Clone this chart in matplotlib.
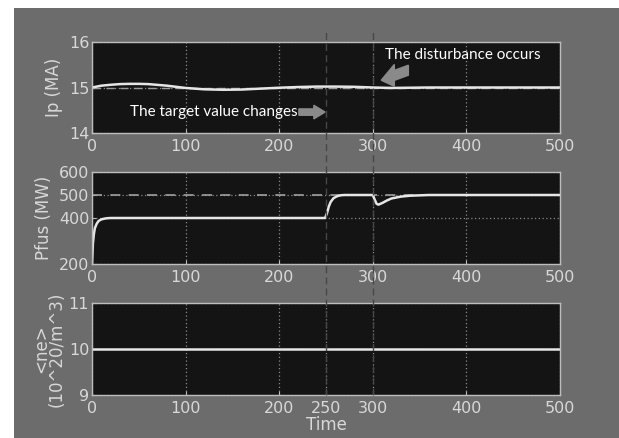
import matplotlib
matplotlib.use("Agg")
import matplotlib.pyplot as plt
from matplotlib.patches import Rectangle, FancyArrow
from matplotlib.lines import Line2D
from matplotlib.transforms import blended_transform_factory

# plasma current Ip (MA)
ip_t = [0, 10, 20, 30, 40, 50, 60, 80, 100, 120, 140, 160, 180, 200, 220, 240, 260, 280, 300, 320, 340, 360, 400, 450, 500]
ip_v = [15.0, 15.04, 15.06, 15.075, 15.08, 15.08, 15.075, 15.04, 14.99, 14.96, 14.95, 14.955, 14.975, 14.995, 15.01, 15.02, 15.02, 15.015, 15.0, 14.99, 14.995, 15.0, 15.0, 15.0, 15.0]

# fusion power (MW)
pf_t = [0, 1, 2, 3, 5, 7, 10, 13, 16, 20, 30, 100, 200, 249, 251, 253, 255, 258, 262, 266, 270, 300, 302, 304, 306, 310, 315, 320, 330, 340, 360, 400, 500]
pf_v = [200, 290, 330, 355, 375, 387, 394, 397, 399, 400, 400, 400, 400, 400, 420, 450, 470, 486, 495, 499, 500, 500, 480, 462, 458, 465, 476, 485, 493, 497, 500, 500, 500]
pf_ref = 500

# line-averaged density (10^20/m^3)
ne_t = [0, 500]
ne_v = [10.0, 10.0]

events = [250, 300]
xticks_top = [0, 100, 200, 300, 400, 500]
xticks_bottom = [0, 100, 200, 250, 300, 400, 500]

BG = "#6c6c6c"
FACE = "#141414"
FG = "#d8d8d8"
LINE = "#e6e6e6"

plt.rcParams["font.family"] = ["Liberation Sans Narrow", "DejaVu Sans"]

fig = plt.figure(figsize=(6.19, 4.38), dpi=100, facecolor="white")
fig.patches.append(Rectangle((14 / 619, 0), 1, 1 - 8 / 438, transform=fig.transFigure,
                             facecolor=BG, edgecolor="none", zorder=-10))

left, width = 92 / 619, 468 / 619
ax1 = fig.add_axes([left, 1 - 133 / 438, width, 91 / 438])
ax2 = fig.add_axes([left, 1 - 264 / 438, width, 92 / 438])
ax3 = fig.add_axes([left, 1 - 395 / 438, width, 92 / 438])


def style(ax, yticks, ylim, xticks):
    ax.set_facecolor(FACE)
    ax.set_xlim(0, 500)
    ax.set_ylim(*ylim)
    ax.set_xticks(xticks)
    ax.set_yticks(yticks)
    for s in ax.spines.values():
        s.set_color("#bdbdbd")
        s.set_linewidth(1.0)
    ax.tick_params(colors="#bdbdbd", labelcolor=FG, labelsize=11.5, direction="in", length=3)
    ax.tick_params(axis="x", pad=4)
    ax.tick_params(axis="y", pad=2)
    ax.grid(True, color="#8a8a8a", linestyle=(0, (1, 2)), linewidth=0.9)


style(ax1, [14, 15, 16], (14, 16), xticks_top)
ax1.plot([0, 500], [15, 15], color="#9a9a9a", lw=1.0, ls=(0, (6, 4)))
ax1.plot(ip_t, ip_v, color=LINE, lw=1.8)
ax1.set_ylabel("Ip (MA)", color=FG, fontsize=12, labelpad=4)

style(ax2, [200, 400, 500, 600], (200, 600), xticks_top)
ax2.plot([0, 500], [pf_ref, pf_ref], color="#a0a0a0", lw=1.2, ls=(0, (6, 5)))
ax2.plot(pf_t, pf_v, color=LINE, lw=1.8)
ax2.set_ylabel("Pfus (MW)", color=FG, fontsize=12, labelpad=4)

style(ax3, [9, 10, 11], (9, 11), xticks_bottom)
ax3.plot(ne_t, ne_v, color=LINE, lw=1.8)
ax3.set_ylabel("<ne>\n(10^20/m^3)", color=FG, fontsize=12, labelpad=2, linespacing=0.85)
ax3.set_xlabel("Time", color=FG, fontsize=12, labelpad=0)

# event markers spanning all panels
tr = blended_transform_factory(ax3.transData, fig.transFigure)
for t in events:
    fig.lines.append(Line2D([t, t], [1 - 395 / 438, 1 - 31 / 438], transform=tr,
                            color="#474747", lw=1.0, ls=(0, (5, 3)), zorder=5))

# annotations
ax1.text(220, 14.46, "The target value changes", color="white", fontsize=11,
         family=["Lato", "DejaVu Sans"], va="center", ha="right")
ax1.add_patch(FancyArrow(221, 14.46, 28, 0, width=0.14, head_width=0.3, head_length=12,
                         length_includes_head=True, color="#8a8a8a", zorder=6))
ax1.text(313, 15.71, "The disturbance occurs", color="white", fontsize=11,
         family=["Lato", "DejaVu Sans"], va="center", ha="left")
ax1.add_patch(FancyArrow(338, 15.38, -29, -0.22, width=0.22, head_width=0.48, head_length=14,
                         length_includes_head=True, color="#8a8a8a", zorder=6))

fig.savefig("out.png", dpi=100, facecolor="white")
